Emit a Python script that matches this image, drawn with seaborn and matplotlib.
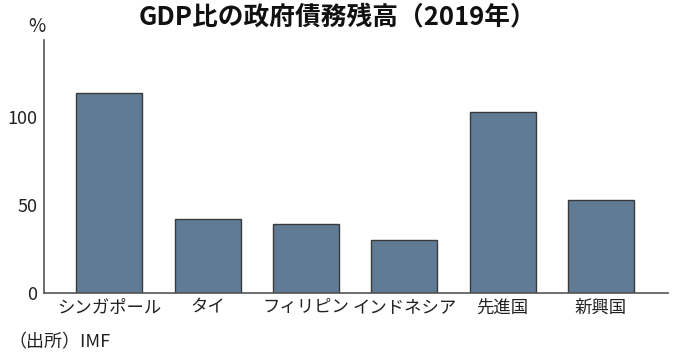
import matplotlib
matplotlib.use('Agg')
import matplotlib.pyplot as plt
import seaborn as sns
import pandas as pd

# データ
categories = ['シンガポール', 'タイ', 'フィリピン', 'インドネシア', '先進国', '新興国']
debt_ratio = [114, 42, 39, 30, 103, 53]
yticks = [0, 50, 100]

sns.set_theme(style='white')
plt.rcParams['font.family'] = ['Noto Sans CJK JP', 'DejaVu Sans']

df = pd.DataFrame({'国': categories, '比率': debt_ratio})

fig = plt.figure(figsize=(6.8, 3.63), dpi=100)
ax = fig.add_axes([0.0647, 0.193, 0.9173, 0.697])

sns.barplot(data=df, x='国', y='比率', color='#5f7b96', saturation=1,
            width=0.67, edgecolor='#3a3a3a', linewidth=1.0, ax=ax)

ax.set_xlim(-0.665, 5.68)
ax.set_ylim(0, 144)
ax.set_yticks(yticks)
ax.set_yticklabels([str(t) for t in yticks], fontsize=13, color='#222222')
ax.tick_params(axis='y', direction='out', length=4, width=1, color='#555555', pad=1)
ax.tick_params(axis='x', length=0, pad=4, labelsize=12.5, labelcolor='#222222')
ax.set_xlabel('')
ax.set_ylabel('')

for s in ['top', 'right']:
    ax.spines[s].set_visible(False)
for s in ['left', 'bottom']:
    ax.spines[s].set_color('#555555')
    ax.spines[s].set_linewidth(1.2)

fig.text(0.496, 0.951, 'GDP比の政府債務残高（2019年）', ha='center', va='center',
         fontsize=18.5, fontweight='bold', color='#111111')
fig.text(0.054, 0.928, '%', ha='center', va='center', fontsize=13.5, color='#222222')
fig.text(0.012, 0.058, '（出所）IMF', ha='left', va='center', fontsize=13, color='#222222')

fig.savefig('out.png', dpi=100)
